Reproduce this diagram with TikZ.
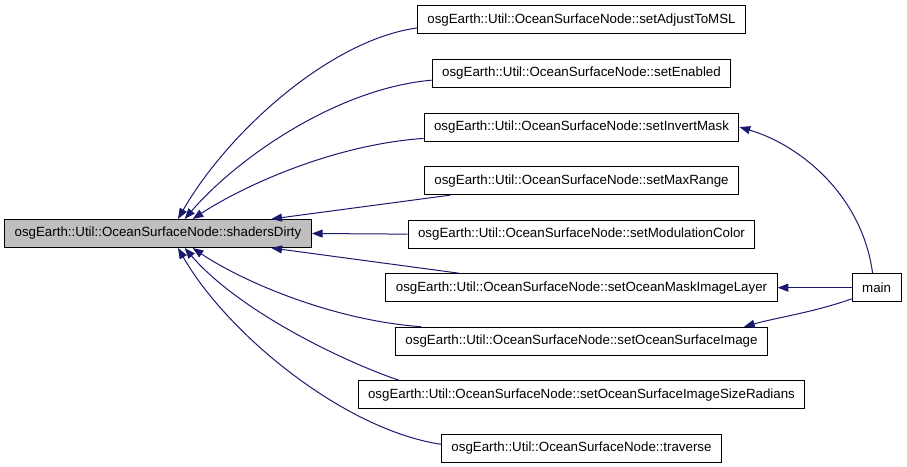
\documentclass[tikz,border=0pt]{standalone}
\usepackage{fontspec}
\newfontfamily\dotfont{Liberation Sans}
\usetikzlibrary{arrows.meta, positioning}
\definecolor{edgeblue}{HTML}{191970}
\definecolor{curgray}{HTML}{BFBFBF}

\begin{document}
\begin{tikzpicture}[
    x=0.75pt, y=-0.75pt,
    >={Triangle[length=8pt, width=6pt]},
    node distance=18.4pt,
    fnode/.style={draw, line width=0.75pt, minimum height=21pt, inner xsep=7.5pt,
                  font=\dotfont\fontsize{10}{12}\selectfont},
    cnode/.style={fnode, fill=curgray},
    call/.style={->, color=edgeblue, line width=0.75pt}
  ]
  \useasboundingbox (0,0) rectangle (907,467);

  % the function itself
  \node[cnode] (sd) at (158,233.5) {osgEarth::Util::OceanSurfaceNode::shadersDirty};

  % its callers
  \node[fnode] (adjust) at (581.5,20) {osgEarth::Util::OceanSurfaceNode::setAdjustToMSL};
  \node[fnode, below=of adjust] (enabled) {osgEarth::Util::OceanSurfaceNode::setEnabled};
  \node[fnode, below=of enabled] (invert) {osgEarth::Util::OceanSurfaceNode::setInvertMask};
  \node[fnode, below=of invert] (maxr) {osgEarth::Util::OceanSurfaceNode::setMaxRange};
  \node[fnode, below=of maxr] (modc) {osgEarth::Util::OceanSurfaceNode::setModulationColor};
  \node[fnode, below=of modc] (mask) {osgEarth::Util::OceanSurfaceNode::setOceanMaskImageLayer};
  \node[fnode, below=of mask] (surf) {osgEarth::Util::OceanSurfaceNode::setOceanSurfaceImage};
  \node[fnode, below=of surf] (sizer) {osgEarth::Util::OceanSurfaceNode::setOceanSurfaceImageSizeRadians};
  \node[fnode, below=of sizer] (trav) {osgEarth::Util::OceanSurfaceNode::traverse};

  \node[fnode, right=55.5pt of mask] (main) {main};

  % caller edges
  \draw[call] ([yshift=-6pt]adjust.west) .. controls (330,40) and (228,132) .. ([xshift=15pt]sd.north);
  \draw[call] ([yshift=-5pt]enabled.west) .. controls (340,88) and (240,155) .. ([xshift=20pt]sd.north);
  \draw[call] ([yshift=-8.5pt]invert.west) .. controls (330,145) and (240,188) .. ([xshift=26pt]sd.north);
  \draw[call] ([xshift=20pt]maxr.south west) -- ([xshift=85pt]sd.north);
  \draw[call] (modc.west) -- (sd.east);
  \draw[call] ([xshift=55pt]mask.north west) -- ([xshift=85pt]sd.south);
  \draw[call] ([xshift=19.5pt]surf.north west) .. controls (330,320) and (240,280) .. ([xshift=26pt]sd.south);
  \draw[call] ([xshift=31pt]sizer.north west) .. controls (345,362) and (240,312) .. ([xshift=20pt]sd.south);
  \draw[call] ([yshift=3pt]trav.west) .. controls (345,430) and (228,335) .. ([xshift=15pt]sd.south);

  % edges from main
  \draw[call] ([xshift=-3pt]main.north) .. controls (862,195) and (800,145) .. (invert.east);
  \draw[call] (main.west) -- (mask.east);
  \draw[call] ([yshift=2.5pt]main.south west) .. controls (815,312) and (775,318) .. ([xshift=-18pt]surf.north east);
\end{tikzpicture}
\end{document}
